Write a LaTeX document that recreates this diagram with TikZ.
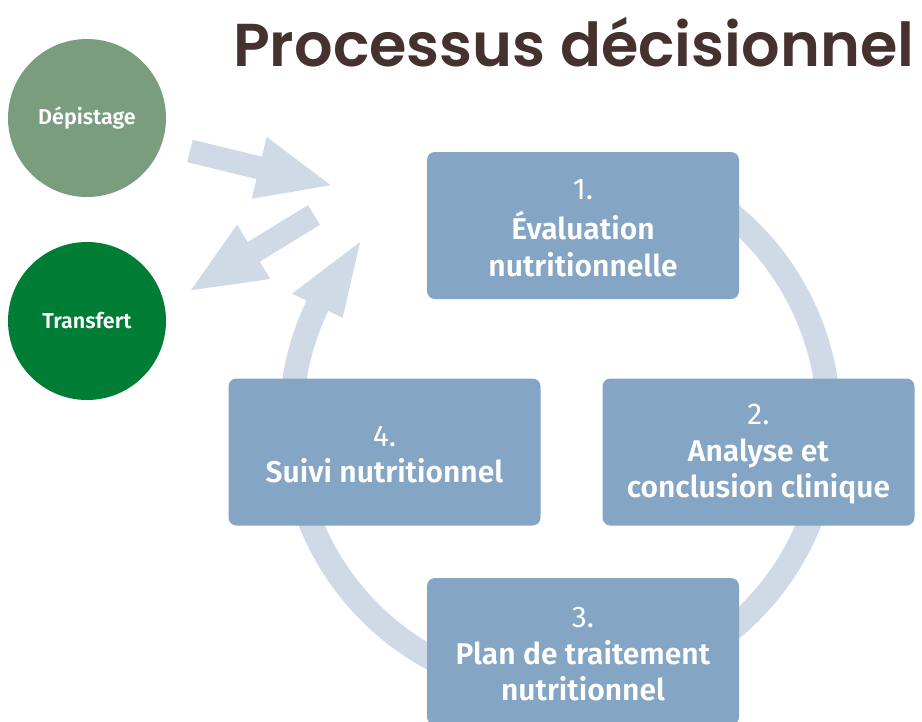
\documentclass[tikz,border=0pt]{standalone}
\usepackage{fontspec}
\IfFontExistsTF{Fira Sans SemiBold}{\setmainfont{Fira Sans}[BoldFont={Fira Sans SemiBold}]}{\setmainfont{Fira Sans}}
\IfFontExistsTF{Poppins SemiBold}{\newfontfamily\titlefont{Poppins}[BoldFont={Poppins SemiBold}]}{\newfontfamily\titlefont{Poppins}}
\usetikzlibrary{arrows.meta}
\definecolor{titlecol}{HTML}{45322E}
\definecolor{greenA}{HTML}{7A9D7E}
\definecolor{greenB}{HTML}{007D34}
\definecolor{boxcol}{HTML}{84A5C3}
\definecolor{ringcol}{HTML}{CFDAE6}
\tikzset{
  stepbox/.style={rectangle, rounded corners=8pt, fill=boxcol, minimum width=312pt, minimum height=147pt,
    inner sep=0pt, text=white, align=center, font=\fontsize{30}{36.5}\selectfont},
  roundnode/.style={circle, minimum size=158pt, inner sep=0pt, text=white, font=\fontsize{21.5}{25}\selectfont\bfseries},
  blockarrow/.style={draw=ringcol, line width=23pt, -{Triangle[length=77pt,width=57pt]}},
  ringline/.style={draw=ringcol, line width=24pt},
}
\begin{document}
\begin{tikzpicture}[x=1pt,y=-1pt]
\useasboundingbox (0,0) rectangle (922,721);
\fill[white] (0,0) rectangle (922,721);
% ring
\coordinate (rc) at (560,422);
\draw[ringline] ([shift={(65:269pt)}]rc) arc[start angle=65, end angle=-207, radius=269pt];
\fill[ringcol] ([shift={(138:269pt)}]rc) -- ([shift={(154.4:241pt)}]rc) -- ([shift={(154.4:297pt)}]rc) -- cycle;
% title
\node[anchor=base west, inner sep=0pt, text=titlecol, font=\titlefont\fontsize{60.5}{70}\selectfont\bfseries] (title) at (233,66) {Processus décisionnel};
% circles
\node[roundnode, fill=greenA] (dep) at (87,118) {Dépistage};
\node[roundnode, fill=greenB] (tra) at (87,321) {Transfert};
% block arrows
\coordinate (a1s) at (190,151);
\coordinate (a1e) at (334,186);
\coordinate (a2s) at (314,215);
\coordinate (a2e) at (188,292);
\draw[blockarrow] (a1s) -- (a1e);
\draw[blockarrow] (a2s) -- (a2e);
% steps
\node[stepbox] (s1) at (583,225.5) {\strut1.\\\textbf{Évaluation}\\\textbf{nutritionnelle}};
\node[stepbox] (s2) at (758.5,452) {\strut2.\\\textbf{Analyse et}\\\textbf{conclusion clinique}};
\node[stepbox] (s3) at (583,651.5) {\strut3.\\\textbf{Plan de traitement}\\\textbf{nutritionnel}};
\node[stepbox] (s4) at (384.5,452) {\strut4.\\\textbf{Suivi nutritionnel}};
\end{tikzpicture}
\end{document}
